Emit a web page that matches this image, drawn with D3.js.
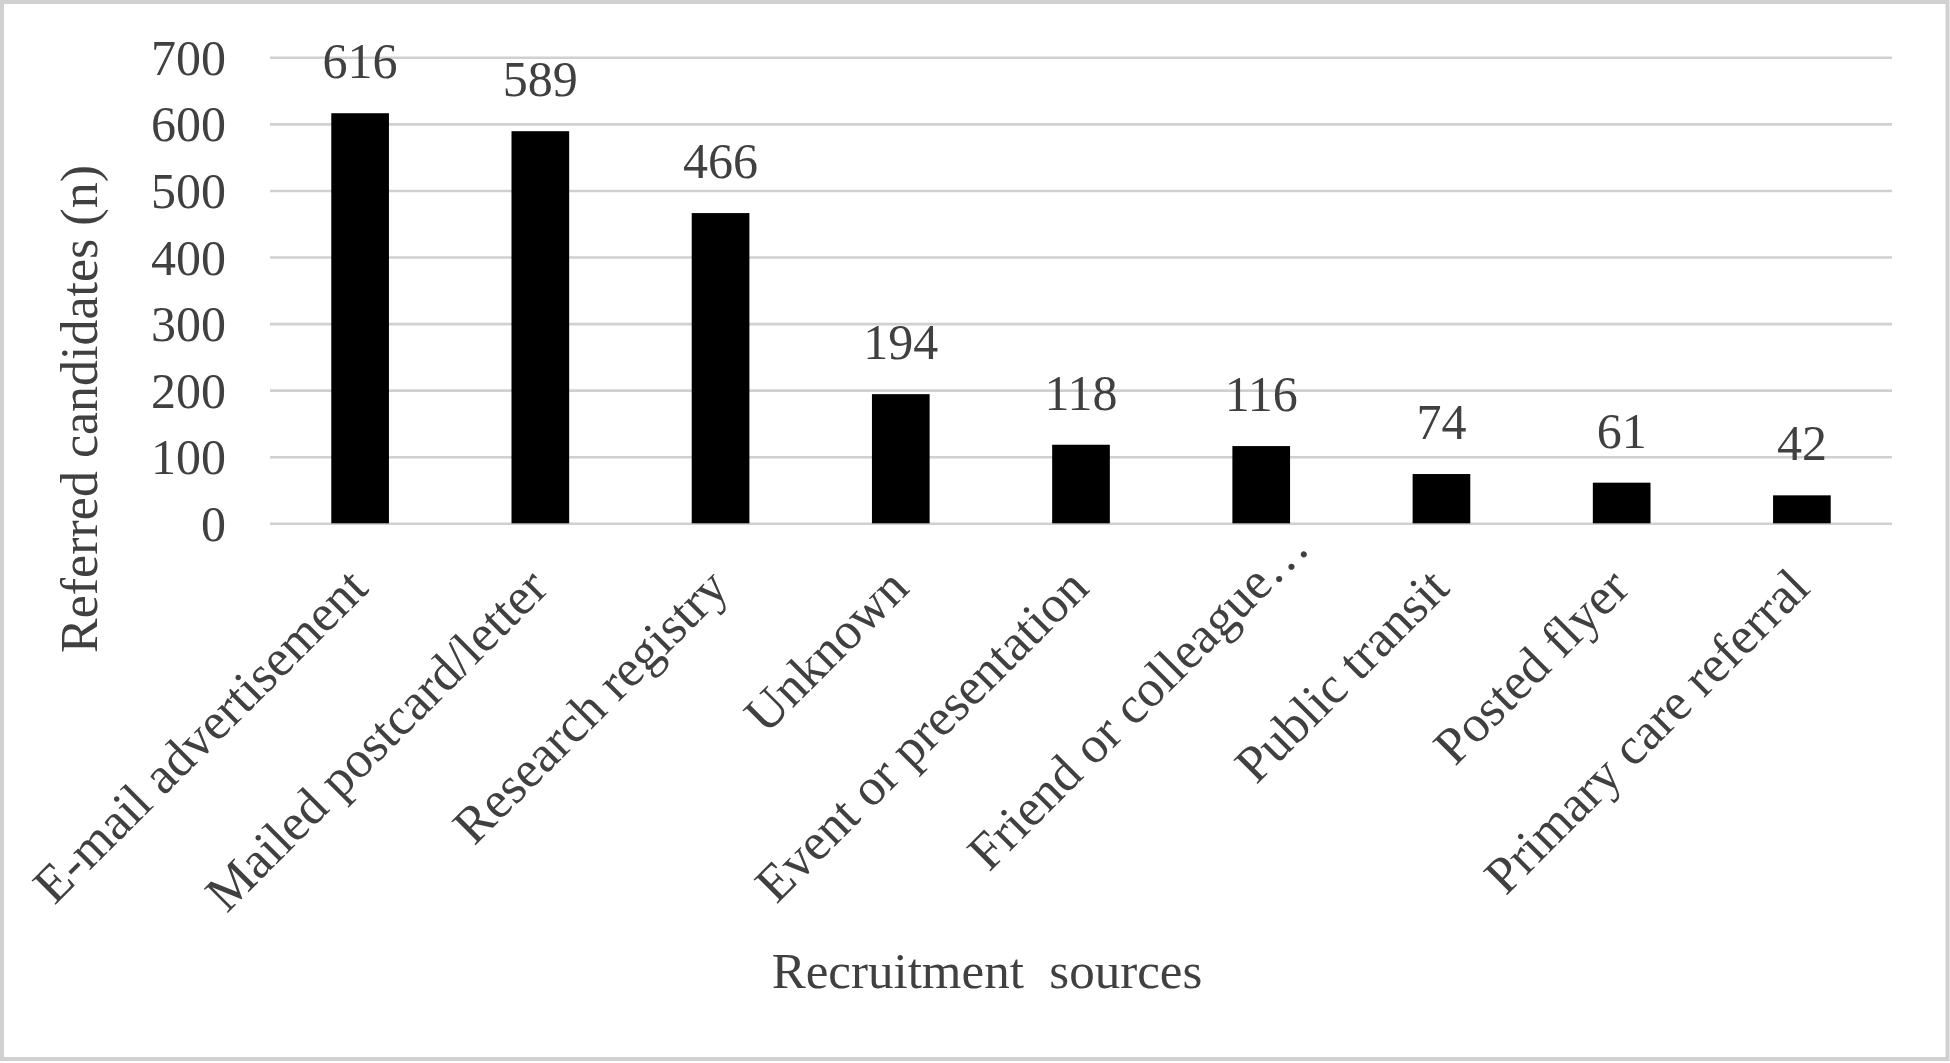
<!DOCTYPE html>
<html>
<head>
<meta charset="utf-8">
<script src="https://cdn.jsdelivr.net/npm/d3@7"></script>
<style>
  html, body { margin: 0; padding: 0; background: #fff; }
  svg { display: block; }
  text { font-family: "Liberation Serif", "Times New Roman", serif; fill: #404040; }
</style>
</head>
<body>
<svg id="chart" width="1950" height="1063"></svg>
<script>
const categories = [
  "E-mail advertisement",
  "Mailed postcard/letter",
  "Research registry",
  "Unknown",
  "Event or presentation",
  "Friend or colleague\u2026",
  "Public transit",
  "Posted flyer",
  "Primary care referral"
];
const values = [616, 589, 466, 194, 118, 116, 74, 61, 42];
const yTicks = [0, 100, 200, 300, 400, 500, 600, 700];
const yTitle = "Referred candidates (n)";
const xTitle = "Recruitment\u2002sources";

const W = 1950, H = 1063;
const plot = { left: 270, right: 1892, top: 57.3, bottom: 523.3 };

const svg = d3.select("#chart");

// outer frame
svg.append("rect")
  .attr("x", 2).attr("y", 2)
  .attr("width", W - 4.5).attr("height", H - 6)
  .attr("fill", "#fff")
  .attr("stroke", "#d0d0d0")
  .attr("stroke-width", 4);

const x = d3.scaleBand()
  .domain(categories)
  .range([plot.left, plot.right])
  .paddingInner(0.68)
  .paddingOuter(0.34);

const y = d3.scaleLinear()
  .domain([0, 700])
  .range([plot.bottom, plot.top]);

// gridlines
const grid = svg.append("g")
  .attr("transform", `translate(${plot.left},0)`)
  .call(d3.axisLeft(y).tickValues(yTicks).tickSize(-(plot.right - plot.left)).tickFormat(""));
grid.select(".domain").remove();
grid.selectAll(".tick line").attr("stroke", "#d0d0d0").attr("stroke-width", 2.6);

// y tick labels
const yAxis = svg.append("g")
  .attr("transform", `translate(226,0)`)
  .call(d3.axisLeft(y).tickValues(yTicks).tickSize(0).tickPadding(0).tickFormat(d3.format("d")));
yAxis.select(".domain").remove();
yAxis.selectAll("text")
  .attr("font-size", 50)
  .attr("fill", "#404040")
  .attr("dy", "0.34em");

// bars
svg.append("g").selectAll("rect")
  .data(values)
  .join("rect")
  .attr("x", (d, i) => x(categories[i]))
  .attr("width", x.bandwidth())
  .attr("y", d => y(d))
  .attr("height", d => y(0) - y(d))
  .attr("fill", "#000");

// data labels
svg.append("g").selectAll("text")
  .data(values)
  .join("text")
  .attr("x", (d, i) => x(categories[i]) + x.bandwidth() / 2)
  .attr("y", d => y(d) - 35)
  .attr("text-anchor", "middle")
  .attr("font-size", 50)
  .text(d => d);

// x category labels (rotated); truncated labels sit further along the baseline
const xAxis = svg.append("g")
  .attr("transform", `translate(0,${plot.bottom})`)
  .call(d3.axisBottom(x).tickSize(0).tickPadding(0));
xAxis.select(".domain").remove();
xAxis.selectAll(".tick text")
  .attr("font-size", 52)
  .attr("fill", "#404040")
  .attr("text-anchor", "end")
  .attr("y", 0).attr("dy", 0)
  .attr("x", d => d.endsWith("\u2026") ? 57 : 0)
  .attr("transform", "translate(10,67) rotate(-45)");

// axis titles
svg.append("text")
  .attr("transform", "translate(97,409) rotate(-90)")
  .attr("text-anchor", "middle")
  .attr("font-size", 52)
  .text(yTitle);

svg.append("text")
  .attr("x", 987).attr("y", 988)
  .attr("text-anchor", "middle")
  .attr("font-size", 51)
  .text(xTitle);
</script>
</body>
</html>
